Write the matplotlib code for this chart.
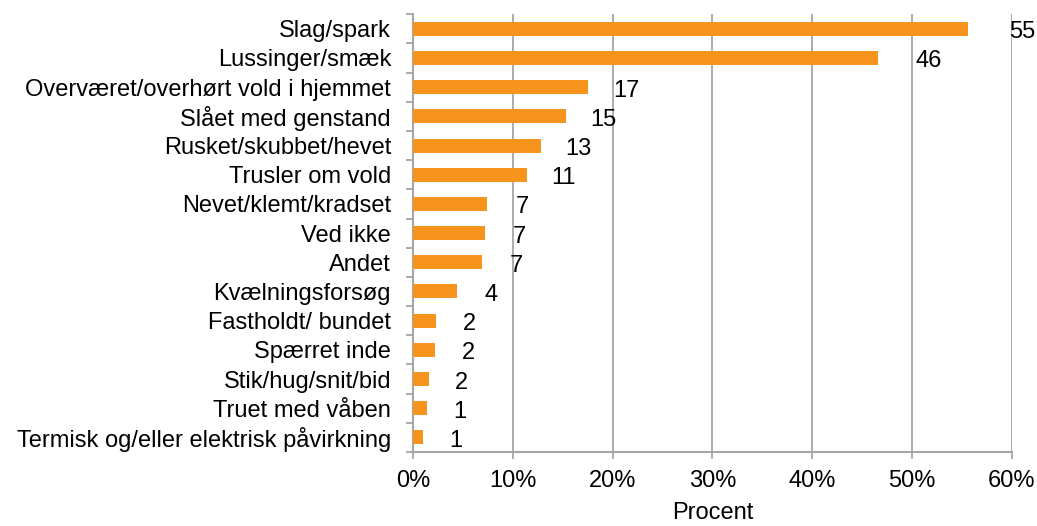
import matplotlib.pyplot as plt
import numpy as np

plt.rcParams['font.family'] = ['Liberation Sans', 'DejaVu Sans']

categories = [
    "Slag/spark",
    "Lussinger/smæk",
    "Overværet/overhørt vold i hjemmet",
    "Slået med genstand",
    "Rusket/skubbet/hevet",
    "Trusler om vold",
    "Nevet/klemt/kradset",
    "Ved ikke",
    "Andet",
    "Kvælningsforsøg",
    "Fastholdt/ bundet",
    "Spærret inde",
    "Stik/hug/snit/bid",
    "Truet med våben",
    "Termisk og/eller elektrisk påvirkning",
]
values = [55.6, 46.6, 17.5, 15.3, 12.8, 11.4, 7.4, 7.2, 6.9, 4.4, 2.3, 2.2, 1.6, 1.4, 1.0]
labels = ["55", "46", "17", "15", "13", "11", "7", "7", "7", "4", "2", "2", "2", "1", "1"]
xticks = [0, 10, 20, 30, 40, 50, 60]

orange = "#F7941E"
grid = "#A6A6A6"
fs = 17

fig = plt.figure(figsize=(10.37, 5.26), dpi=100)
ax = fig.add_axes([0.3985, 0.1407, 0.9755 - 0.3985, 0.973 - 0.1407])

y = np.arange(len(categories))
ax.barh(y, values, height=0.48, color=orange, zorder=3)

# value labels sit a bit right of and below each bar end
for yi, v, lab in zip(y, values, labels):
    ax.text(v * 1.04 + 3.2, yi + 0.12, lab, ha="center", va="center", fontsize=fs, zorder=4)

ax.set_xlim(0, 60)
ax.set_ylim(len(categories) - 0.5, -0.5)
ax.set_xticks(xticks)
ax.set_xticklabels([f"{t}%" for t in xticks], fontsize=fs)
ax.set_yticks(y)
ax.set_yticklabels(categories, fontsize=fs)
ax.set_yticks(np.arange(len(categories) + 1) - 0.5, minor=True)
ax.tick_params(axis="y", which="major", length=0, pad=16)
ax.tick_params(axis="y", which="minor", length=5, width=1.3, color=grid, direction="out")
ax.tick_params(axis="x", length=5, width=1.3, color=grid, pad=8)
ax.xaxis.grid(True, color=grid, linewidth=1.3, zorder=0)
ax.set_xlabel("Procent", fontsize=fs, labelpad=7)

for s in ["top", "right"]:
    ax.spines[s].set_visible(False)
for s in ["left", "bottom"]:
    ax.spines[s].set_color(grid)
    ax.spines[s].set_linewidth(1.5)

fig.savefig("out.png", dpi=100)
